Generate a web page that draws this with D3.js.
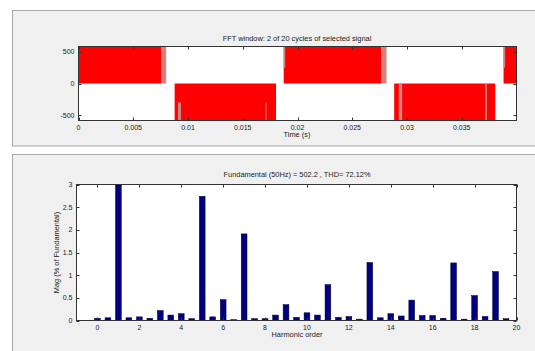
<!DOCTYPE html>
<html>
<head>
<meta charset="utf-8">
<script src="https://cdn.jsdelivr.net/npm/d3@7"></script>
<style>
  html, body { margin: 0; padding: 0; background: #ffffff; }
  svg { display: block; }
  text { font-family: "Liberation Sans", Arial, sans-serif; fill: #1a1a1a; }
</style>
</head>
<body>
<svg id="fig" width="535" height="351"></svg>
<script>
// ---- Signal window (2 cycles, inverter output voltage) ----
const vdc = 585;
// Densely switched intervals: [tStart, tEnd, vLow, vHigh]
const switchedBands = [
  [0.0, 0.00758, 0, vdc],
  [0.01874, 0.02767, 0, vdc],
  [0.03882, 0.04, 0, vdc],
  [0.00878, 0.01804, -vdc, 0],
  [0.02883, 0.03806, -vdc, 0]
];
// Sparsely switched intervals (lighter trace)
const sparseBands = [
  [0.00758, 0.00801, 0, vdc],
  [0.02767, 0.02813, 0, vdc],
  [0.00908, 0.00936, -vdc, -300],
  [0.01708, 0.01716, -vdc, -300],
  [0.01874, 0.01888, 250, vdc],
  [0.02767, 0.02780, 250, vdc],
  [0.02925, 0.02956, -vdc, 0],
  [0.03714, 0.03730, -vdc, 0],
  [0.03882, 0.03896, 250, vdc]
];
const timeTicks = [0, 0.005, 0.01, 0.015, 0.02, 0.025, 0.03, 0.035];
const voltTicks = [-500, 0, 500];

// ---- Harmonic spectrum (% of fundamental) ----
const harmonicOrder = [0, 0.5, 1, 1.5, 2, 2.5, 3, 3.5, 4, 4.5, 5, 5.5, 6, 6.5, 7, 7.5, 8, 8.5, 9, 9.5,
                       10, 10.5, 11, 11.5, 12, 12.5, 13, 13.5, 14, 14.5, 15, 15.5, 16, 16.5, 17, 17.5, 18, 18.5, 19, 19.5];
const magnitude = [0.05, 0.06, 100, 0.06, 0.08, 0.05, 0.22, 0.12, 0.15, 0.04, 2.74, 0.08, 0.46, 0.02, 1.91, 0.04, 0.04, 0.12, 0.35, 0.07,
                   0.17, 0.12, 0.79, 0.07, 0.09, 0.03, 1.28, 0.06, 0.15, 0.10, 0.45, 0.11, 0.11, 0.05, 1.27, 0.03, 0.55, 0.09, 1.08, 0.04];
const orderTicks = [0, 2, 4, 6, 8, 10, 12, 14, 16, 18, 20];
const magTicks = [0, 0.5, 1, 1.5, 2, 2.5, 3];

const fundamentalHz = 50, fundamentalMag = 502.2, thd = 72.12;

const svg = d3.select("#fig");
const FS = 7;      // tick labels
const FT = 7.4;    // titles and axis labels
const axisColor = "#333";

// panels
svg.append("rect").attr("x", 12.5).attr("y", 10.5).attr("width", 540).attr("height", 135.5)
  .attr("fill", "#f0f0f0").attr("stroke", "#a8a8a8");
svg.append("rect").attr("x", 12.5).attr("y", 154.5).attr("width", 540).attr("height", 210)
  .attr("fill", "#f0f0f0").attr("stroke", "#a8a8a8");

// boxed axes with inward ticks on all four sides
function boxAxes(g, x, y, xt, yt, xfmt, yfmt) {
  const [x0, x1] = x.range(), [y0, y1] = y.range();
  const tl = 3;
  xt.forEach(t => {
    const px = Math.round(x(t)) + 0.5;
    g.append("line").attr("x1", px).attr("x2", px).attr("y1", y0).attr("y2", y0 - tl).attr("stroke", axisColor);
    g.append("line").attr("x1", px).attr("x2", px).attr("y1", y1).attr("y2", y1 + tl).attr("stroke", axisColor);
    g.append("text").attr("x", x(t)).attr("y", y0 + 9).attr("text-anchor", "middle")
      .attr("font-size", FS).text(xfmt(t));
  });
  yt.forEach(t => {
    const py = Math.round(y(t)) + 0.5;
    g.append("line").attr("x1", x0).attr("x2", x0 + tl).attr("y1", py).attr("y2", py).attr("stroke", axisColor);
    g.append("line").attr("x1", x1).attr("x2", x1 - tl).attr("y1", py).attr("y2", py).attr("stroke", axisColor);
    g.append("text").attr("x", x0 - 4).attr("y", y(t) + 2.5).attr("text-anchor", "end")
      .attr("font-size", FS).text(yfmt(t));
  });
  g.append("rect").attr("x", x0).attr("y", y1).attr("width", x1 - x0).attr("height", y0 - y1)
    .attr("fill", "none").attr("stroke", axisColor);
}

// ---- top: time signal ----
const xT = d3.scaleLinear().domain([0, 0.04]).range([78.5, 516.5]);
const yT = d3.scaleLinear().domain([-vdc, vdc]).range([120.5, 46.5]);
const gT = svg.append("g");
gT.append("rect").attr("x", xT(0)).attr("y", yT(vdc)).attr("width", xT(0.04) - xT(0))
  .attr("height", yT(-vdc) - yT(vdc)).attr("fill", "#ffffff");
gT.selectAll("rect.sw").data(switchedBands).join("rect").attr("class", "sw")
  .attr("x", d => xT(d[0])).attr("width", d => xT(d[1]) - xT(d[0]))
  .attr("y", d => yT(d[3])).attr("height", d => yT(d[2]) - yT(d[3]))
  .attr("fill", "#ff0000");
gT.selectAll("rect.sp").data(sparseBands).join("rect").attr("class", "sp")
  .attr("x", d => xT(d[0])).attr("width", d => Math.max(1, xT(d[1]) - xT(d[0])))
  .attr("y", d => yT(d[3])).attr("height", d => yT(d[2]) - yT(d[3]))
  .attr("fill", "#d28282");
boxAxes(gT, xT, yT, timeTicks, voltTicks, d => d === 0 ? "0" : String(d), d => String(d));
gT.append("text").attr("x", 297).attr("y", 41).attr("text-anchor", "middle").attr("font-size", FT)
  .text("FFT window: 2 of 20 cycles of selected signal");
gT.append("text").attr("x", 297).attr("y", 137).attr("text-anchor", "middle").attr("font-size", FT)
  .text("Time (s)");

// ---- bottom: spectrum ----
const xH = d3.scaleLinear().domain([-1, 20]).range([76.5, 516.5]);
const yH = d3.scaleLinear().domain([0, 3]).range([320.5, 184.5]);
const gH = svg.append("g");
gH.append("rect").attr("x", xH(-1)).attr("y", yH(3)).attr("width", xH(20) - xH(-1))
  .attr("height", yH(0) - yH(3)).attr("fill", "#ffffff");
svg.append("clipPath").attr("id", "clipH").append("rect")
  .attr("x", xH(-1)).attr("y", yH(3)).attr("width", xH(20) - xH(-1)).attr("height", yH(0) - yH(3));
const barW = 0.275;
gH.append("g").attr("clip-path", "url(#clipH)")
  .selectAll("rect").data(harmonicOrder.map((h, i) => ({ h, m: magnitude[i] }))).join("rect")
  .attr("x", d => xH(d.h - barW / 2)).attr("width", xH(barW) - xH(0))
  .attr("y", d => yH(d.m)).attr("height", d => yH(0) - yH(d.m))
  .attr("fill", "#000080").attr("stroke", "#000033").attr("stroke-width", 0.5);
boxAxes(gH, xH, yH, orderTicks, magTicks, d => String(d), d => String(d));
gH.append("text").attr("x", 297).attr("y", 177).attr("text-anchor", "middle").attr("font-size", FT)
  .text(`Fundamental (${fundamentalHz}Hz) = ${fundamentalMag} , THD= ${thd}%`);
gH.append("text").attr("x", 297).attr("y", 337).attr("text-anchor", "middle").attr("font-size", FT)
  .text("Harmonic order");
gH.append("text").attr("transform", "translate(58.5,252.5) rotate(-90)").attr("text-anchor", "middle")
  .attr("font-size", FT).text("Mag (% of Fundamental)");
</script>
</body>
</html>
